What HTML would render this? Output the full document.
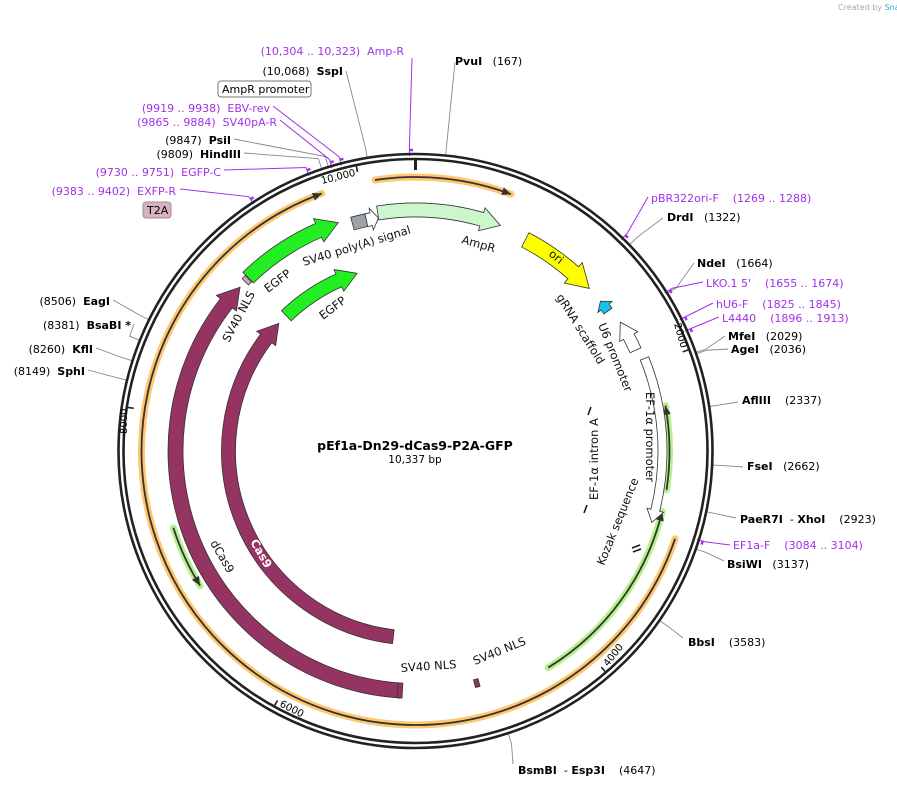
<!DOCTYPE html>
<html><head><meta charset="utf-8">
<style>
html,body{margin:0;padding:0;background:#fff;}
svg{display:block;font-family:"DejaVu Sans","Liberation Sans",sans-serif;}
text{white-space:pre}
.n{font-size:11px;fill:#000}
.b{font-weight:bold}
.p{font-size:11px;fill:#a030e8}
.f{font-size:11.5px;fill:#111}
</style></head>
<body>
<svg id="map" width="897" height="787" viewBox="0 0 897 787" xmlns="http://www.w3.org/2000/svg" xml:space="preserve">
<text x="838" y="10" font-size="8" fill="#aaa">Created by <tspan fill="#3aa0dd">SnapGene</tspan></text>
<g id="lines"></g>
<g id="ring"></g>
<g id="feats"></g>
<g id="labels">
<text x="415" y="450" text-anchor="middle" font-size="12.5" font-weight="bold">pEf1a-Dn29-dCas9-P2A-GFP</text>
<text x="415" y="463" text-anchor="middle" font-size="10.5">10,337 bp</text>

<text class="p" x="404" y="55" text-anchor="end">(10,304 .. 10,323)  Amp-R</text>
<text class="n" x="343" y="75" text-anchor="end">(10,068)  <tspan class="b">SspI</tspan></text>
<g><rect x="218" y="81" width="93" height="16" rx="3" fill="#fff" stroke="#777"/><text class="n" x="222" y="93">AmpR promoter</text></g>
<text class="p" x="270" y="112" text-anchor="end">(9919 .. 9938)  EBV-rev</text>
<text class="p" x="277" y="126" text-anchor="end">(9865 .. 9884)  SV40pA-R</text>
<text class="n" x="231" y="144" text-anchor="end">(9847)  <tspan class="b">PsiI</tspan></text>
<text class="n" x="241" y="158" text-anchor="end">(9809)  <tspan class="b">HindIII</tspan></text>
<text class="p" x="221" y="176" text-anchor="end">(9730 .. 9751)  EGFP-C</text>
<text class="p" x="176" y="195" text-anchor="end">(9383 .. 9402)  EXFP-R</text>
<g><rect x="143" y="202" width="28" height="16" rx="3" fill="#d8b2c2" stroke="#a88"/><text class="n" x="147" y="214">T2A</text></g>
<text class="n" x="110" y="305" text-anchor="end">(8506)  <tspan class="b">EagI</tspan></text>
<text class="n" x="131" y="329" text-anchor="end">(8381)  <tspan class="b">BsaBI *</tspan></text>
<text class="n" x="93" y="353" text-anchor="end">(8260)  <tspan class="b">KflI</tspan></text>
<text class="n" x="85" y="375" text-anchor="end">(8149)  <tspan class="b">SphI</tspan></text>

<text class="n" x="455" y="65"><tspan class="b">PvuI</tspan>   (167)</text>
<text class="p" x="651" y="202">pBR322ori-F    (1269 .. 1288)</text>
<text class="n" x="667" y="221"><tspan class="b">DrdI</tspan>   (1322)</text>
<text class="n" x="697" y="267"><tspan class="b">NdeI</tspan>   (1664)</text>
<text class="p" x="706" y="287">LKO.1 5'    (1655 .. 1674)</text>
<text class="p" x="716" y="308">hU6-F    (1825 .. 1845)</text>
<text class="p" x="722" y="322">L4440    (1896 .. 1913)</text>
<text class="n" x="728" y="340"><tspan class="b">MfeI</tspan>   (2029)</text>
<text class="n" x="731" y="353"><tspan class="b">AgeI</tspan>   (2036)</text>
<text class="n" x="742" y="404"><tspan class="b">AflIII</tspan>    (2337)</text>
<text class="n" x="747" y="470"><tspan class="b">FseI</tspan>   (2662)</text>
<text class="n" x="740" y="523"><tspan class="b">PaeR7I</tspan>  - <tspan class="b">XhoI</tspan>    (2923)</text>
<text class="p" x="733" y="549">EF1a-F    (3084 .. 3104)</text>
<text class="n" x="727" y="568"><tspan class="b">BsiWI</tspan>   (3137)</text>
<text class="n" x="688" y="646"><tspan class="b">BbsI</tspan>    (3583)</text>
<text class="n" x="518" y="774"><tspan class="b">BsmBI</tspan>  - <tspan class="b">Esp3I</tspan>    (4647)</text>

<text class="f" transform="translate(304,266) rotate(-17)">SV40 poly(A) signal</text>
<text class="f" transform="translate(461,243) rotate(16)">AmpR</text>
<text class="f" transform="translate(548,255) rotate(40)">ori</text>
<text class="f" transform="translate(556,297) rotate(58)">gRNA scaffold</text>
<text class="f" transform="translate(598,325) rotate(68)">U6 promoter</text>
<text class="f" transform="translate(646,392) rotate(90)">EF-1α promoter</text>
<text class="f" transform="translate(604,566) rotate(-68)">Kozak sequence</text>
<text class="f" transform="translate(598,500) rotate(-90)">EF-1α intron A</text>
<text class="f" transform="translate(268,293) rotate(-37)">EGFP</text>
<text class="f" transform="translate(323,320) rotate(-37)">EGFP</text>
<text class="f" transform="translate(229,343) rotate(-62)">SV40 NLS</text>
<text class="f" transform="translate(210,543) rotate(60)">dCas9</text>
<text class="f" transform="translate(250,542) rotate(60)" style="fill:#fff;font-weight:bold">Cas9</text>
<text class="f" transform="translate(401,672) rotate(-4)">SV40 NLS</text>
<text class="f" transform="translate(475,665) rotate(-22)">SV40 NLS</text>

<text font-size="10" transform="translate(322,184) rotate(-14)">10,000</text>
<text font-size="10" transform="translate(674,324) rotate(74)">2000</text>
<text font-size="10" transform="translate(608,667) rotate(-52)">4000</text>
<text font-size="10" transform="translate(279,706) rotate(27)">6000</text>
<text font-size="10" transform="translate(127,434) rotate(-90)">8000</text>
</g>
</svg>
<script>
const TOTAL = 10337;
const siteNames = ["PvuI","DrdI","NdeI","MfeI","AgeI","AflIII","FseI","XhoI","BsiWI","BbsI","BsmBI","SphI","KflI","BsaBI","EagI","HindIII","PsiI","SspI"];
const siteBp = [167,1322,1664,2029,2036,2337,2662,2923,3137,3583,4647,8149,8260,8381,8506,9809,9847,10068];
const siteAnchorX = [455,663,694,725,728,738,743,736,724,683,513,88,96,134,113,244,234,346];
const siteAnchorY = [62,218,263,336,349,402,467,518,561,638,764,370,348,324,300,153,139,71];
const primerNames = ["Amp-R","EBV-rev","SV40pA-R","EGFP-C","EXFP-R","pBR322ori-F","LKO.1","hU6-F","L4440","EF1a-F"];
const primerBp = [10304,9919,9865,9730,9383,1269,1655,1825,1896,3084];
const primerAnchorX = [412,273,280,224,180,648,703,713,719,730];
const primerAnchorY = [58,106,120,170,189,197,282,303,317,545];
const tickBp = [0,2000,4000,6000,8000,10000];
const featNames = ["dCas9","Cas9","EGFP-outer","EGFP-inner","SV40-polyA","AmpR-promoter","AmpR","ori","gRNA-scaffold","U6-promoter","EF1a-promoter","SV40-NLS-a","SV40-NLS-b","T2A"];
const featStart = [5272,5364,9074,9083,9892,9992,10078,789,1464,1660,1952,5258,4728,9040];
const featEnd   = [8988,8988,9800,9815,9992,10078,10929,1347,1550,1878,3067,5290,4760,9070];
const featDir   = [1,1,1,1,0,1,1,1,-1,-1,1,0,0,0];
const featR     = [240,187,241,187,236,236,241,238,238,242,247,240,240,240];
const featW     = [15,14,15,14,13,13,14,16,10,12,9,15,8,9];
const featFill  = ["#953363","#953363","#22ee22","#22ee22","#9ea3a8","#ffffff","#ccf7cc","#ffff00","#18c0f0","#ffffff","#ffffff","#953363","#953363","#d4a8bd"];
const thinStart = [10093,3121,2289,2981,6834];
const thinEnd   = [586,9763,2837,4264,7248];
const thinDir   = [1,1,-1,-1,-1];
const thinR     = [274,274,254,254,254];
const thinGlow  = ["#ffc870","#ffc870","#b6f08c","#b6f08c","#b6f08c"];

const CX = 415.5, CY = 451;
const NS = "http://www.w3.org/2000/svg";
function ang(bp){ return bp / TOTAL * 2 * Math.PI; }
function pt(a, r){ return [CX + r*Math.sin(a), CY - r*Math.cos(a)]; }
function f(p){ return p[0].toFixed(2)+","+p[1].toFixed(2); }
function mk(tag, attrs, parent){ const e=document.createElementNS(NS,tag); for(const k in attrs) e.setAttribute(k,attrs[k]); parent.appendChild(e); return e; }
const gLines = document.getElementById("lines"), gRing = document.getElementById("ring"), gF = document.getElementById("feats");

siteBp.forEach((bp,i)=>{
  const a = ang(bp); const p1 = pt(a,298), p2 = pt(a,308);
  const l = mk("polyline",{points:siteAnchorX[i]+","+siteAnchorY[i]+" "+f(p2)+" "+f(p1),fill:"none",stroke:"#888","stroke-width":0.9},gLines);
  
  
});
primerBp.forEach((bp,i)=>{
  const a = ang(bp); const p1 = pt(a,295), p2 = pt(a,304);
  const l = mk("polyline",{points:primerAnchorX[i]+","+primerAnchorY[i]+" "+f(p2)+" "+f(p1),fill:"none",stroke:"#a030e8","stroke-width":1},gLines);
  
  
  const m = mk("path",{d:"M"+f(pt(a,301))+" L"+f(pt(a+0.012,301)),stroke:"#a030e8","stroke-width":2.5,fill:"none"},gLines);
  
  
});

[297,292].forEach((r,i)=>{
  const c = mk("circle",{cx:CX,cy:CY,r:r,fill:"none",stroke:"#222","stroke-width":2.6},gRing);
  
  
});
tickBp.forEach((bp,i)=>{
  const a = ang(bp); const big = bp===0;
  const t = mk("path",{d:"M"+f(pt(a,293))+" L"+f(pt(a,big?281:285)),stroke:"#222","stroke-width":big?3:1.6},gRing);
  
  
});

function arcPath(a1,a2,r){ const large=(a2-a1)>Math.PI?1:0; return "A"+r+","+r+" 0 "+large+" 1 "+f(pt(a2,r)); }
function arcPathRev(a1,a2,r){ const large=(a2-a1)>Math.PI?1:0; return "A"+r+","+r+" 0 "+large+" 0 "+f(pt(a1,r)); }

thinStart.forEach((s,i)=>{
  let e = thinEnd[i]; if(e<s) e+=TOTAL;
  const a1=ang(s), a2=ang(e), r=thinR[i];
  const d = "M"+f(pt(a1,r))+" "+arcPath(a1,a2,r);
  const g = mk("g",{},gF);
  
  
  mk("path",{d:d,fill:"none",stroke:thinGlow[i],"stroke-width":7,"stroke-linecap":"round"},g);
  mk("path",{d:d,fill:"none",stroke:"#333","stroke-width":1.8},g);
  const hd = 9/r;
  let tipA, baseA;
  if(thinDir[i]>0){ tipA=a2; baseA=a2-hd; } else { tipA=a1; baseA=a1+hd; }
  mk("path",{d:"M"+f(pt(tipA,r))+" L"+f(pt(baseA,r+4))+" L"+f(pt(baseA,r-4))+"Z",fill:"#333"},g);
});

featStart.forEach((s,i)=>{
  let e = featEnd[i]; if(e<s) e+=TOTAL;
  const a1=ang(s), a2=ang(e), r=featR[i], w=featW[i];
  const ro=r+w/2, ri=r-w/2, ex=Math.max(4,w*0.35);
  const hd = Math.min((w*1.4)/r, (a2-a1)*0.6);
  let d;
  if(featDir[i]>0){
    const b=a2-hd;
    d="M"+f(pt(a1,ro))+" "+arcPath(a1,b,ro)+" L"+f(pt(b,ro+ex))+" L"+f(pt(a2,r))+" L"+f(pt(b,ri-ex))+" L"+f(pt(b,ri))+" "+arcPathRev(a1,b,ri)+" Z";
  } else if(featDir[i]<0){
    const b=a1+hd;
    d="M"+f(pt(b,ro))+" "+arcPath(b,a2,ro)+" L"+f(pt(a2,ri))+" "+arcPathRev(b,a2,ri)+" L"+f(pt(b,ri-ex))+" L"+f(pt(a1,r))+" L"+f(pt(b,ro+ex))+" Z";
  } else {
    d="M"+f(pt(a1,ro))+" "+arcPath(a1,a2,ro)+" L"+f(pt(a2,ri))+" "+arcPathRev(a1,a2,ri)+" Z";
  }
  const p = mk("path",{d:d,fill:featFill[i],stroke:"#333","stroke-width":0.8},gF);
  
  
});

const km = mk("path",{d:"M588,415 l3,-8 M584,513 l3,-8 M632,548 l8,-3 M633,552 l8,-3",stroke:"#111","stroke-width":1.5},gF);


</script>
</body></html>
